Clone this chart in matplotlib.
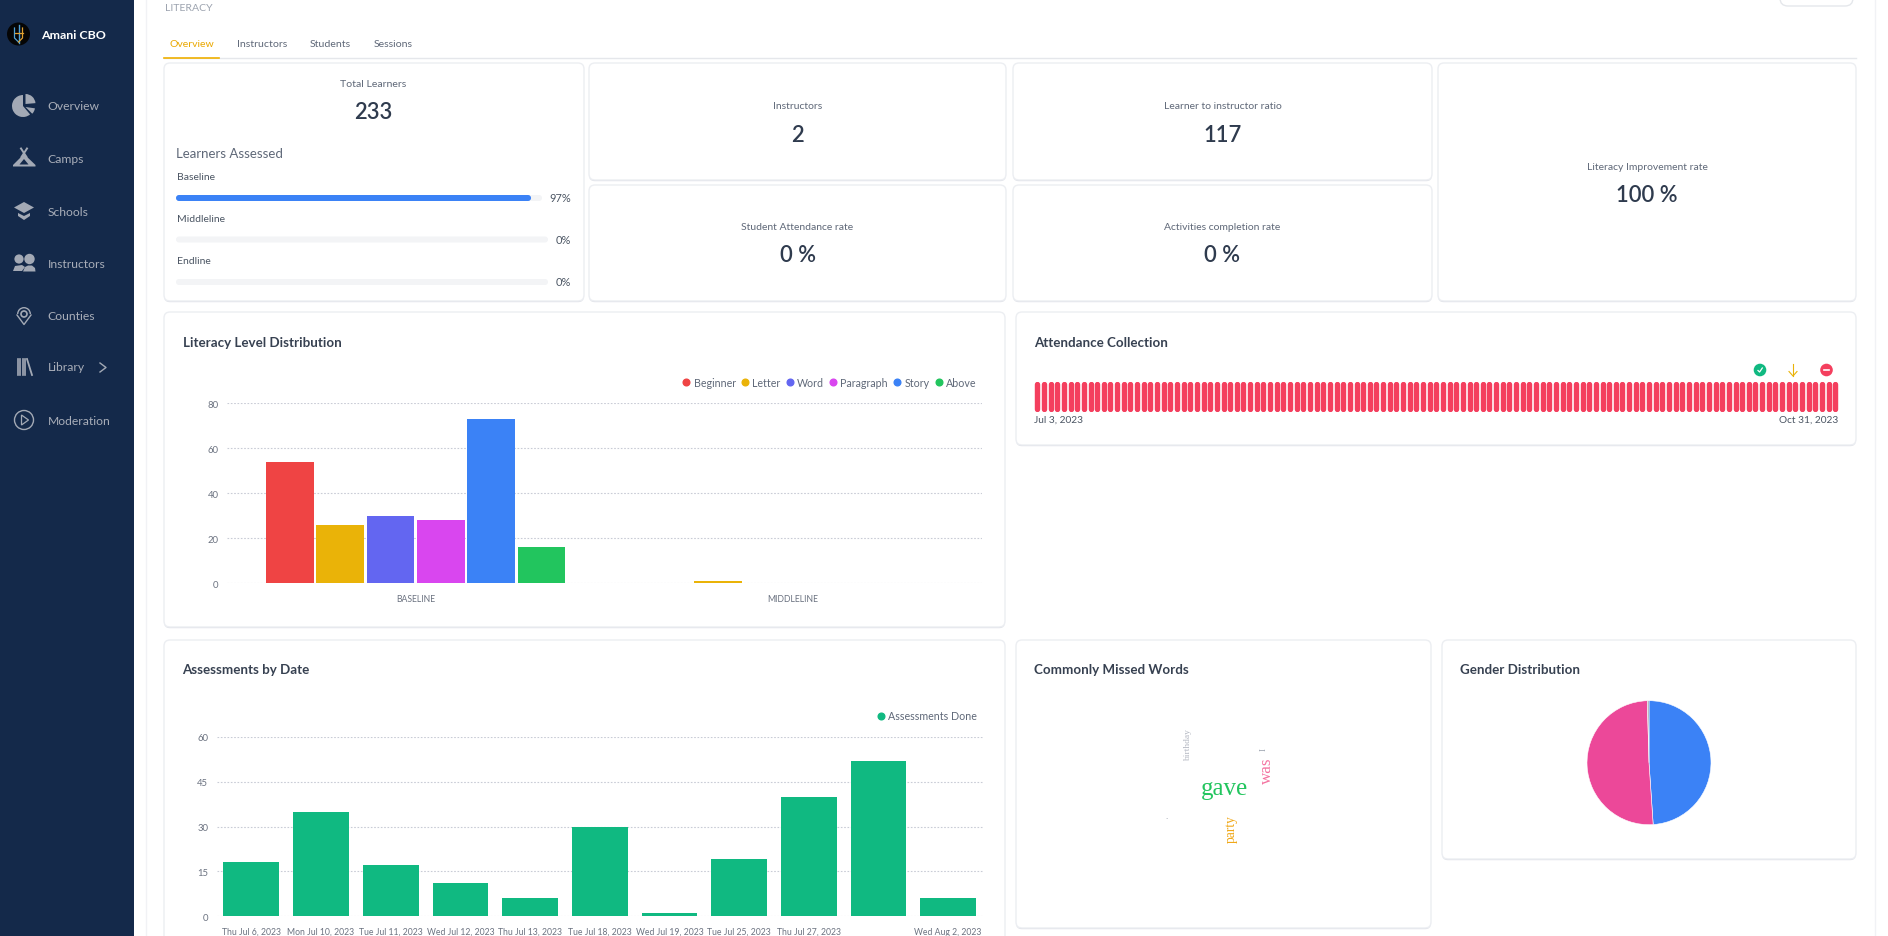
#!/usr/bin/env python3
"""Amani CBO literacy dashboard, rebuilt with matplotlib."""

import matplotlib
matplotlib.use('Agg')
import matplotlib.pyplot as plt
import numpy as np
from matplotlib.lines import Line2D
from matplotlib.patches import Circle, FancyBboxPatch, Polygon, Wedge

plt.rcParams['font.family'] = ['Lato', 'DejaVu Sans']

W, H = 1888, 937

# ---- data ----
nav_items = ['Overview', 'Camps', 'Schools', 'Instructors', 'Counties', 'Library', 'Moderation']
tabs = ['Overview', 'Instructors', 'Students', 'Sessions']

total_learners = 233
assessed_stages = ['Baseline', 'Middleline', 'Endline']
assessed_pct = [97, 0, 0]

kpi_labels = ['Instructors', 'Learner to instructor ratio', 'Student Attendance rate',
              'Activities completion rate', 'Literacy Improvement rate']
kpi_values = ['2', '117', '0 %', '0 %', '100 %']

level_stages = ['BASELINE', 'MIDDLELINE']
level_names = ['Beginner', 'Letter', 'Word', 'Paragraph', 'Story', 'Above']
level_baseline = [54, 26, 30, 28, 73, 16]
level_middleline = [0, 1, 0, 0, 0, 0]
level_colors = ['#EF4444', '#EAB308', '#6366F1', '#D946EF', '#3B82F6', '#22C55E']
level_ticks = [0, 20, 40, 60, 80]

assess_dates = ['Thu Jul 6, 2023', 'Mon Jul 10, 2023', 'Tue Jul 11, 2023', 'Wed Jul 12, 2023',
                'Thu Jul 13, 2023', 'Tue Jul 18, 2023', 'Wed Jul 19, 2023', 'Tue Jul 25, 2023',
                'Thu Jul 27, 2023', '', 'Wed Aug 2, 2023']
assess_counts = [18, 35, 17, 11, 6, 30, 1, 19, 40, 52, 6]
assess_ticks = [0, 15, 30, 45, 60]

# one entry per day, Jul 3 to Oct 31 2023: nothing collected
attendance_days = [1] * 121

gender_names = ['Male', 'Female', 'Other']
gender_counts = [114, 118, 1]
gender_colors = ['#3B82F6', '#EC4899', '#9CA3AF']

words = ['gave', 'was', 'party', 'birthday', 'I', '.']
word_colors = ['#22C55E', '#F472A0', '#F0A818', '#B4B8C2', '#9CA3AF', '#9CA3AF']

NAVY = '#14294A'
ICON = '#A3A9B5'
DARK = '#2F3B4E'
MID = '#5F6878'
TICK = '#6B7280'
GRID = '#C9CCD6'


def px(size):
    # css pixels to points at dpi 100
    return size * 0.72


fig = plt.figure(figsize=(W / 100, H / 100), dpi=100, facecolor='white')
bg = fig.add_axes([0, 0, 1, 1], zorder=0)
bg.set_xlim(0, W)
bg.set_ylim(H, 0)
bg.axis('off')


def px_axes(x0, y0, x1, y1):
    ax = fig.add_axes([x0 / W, 1 - y1 / H, (x1 - x0) / W, (y1 - y0) / H], zorder=2)
    ax.patch.set_alpha(0)
    return ax


def label(x, y, s, size, color=MID, ha='left', weight='normal', **kw):
    # +1 because va=center sits a little high for this font
    return bg.text(x, y + 1, s, fontsize=px(size), color=color, ha=ha, va='center',
                   fontweight=weight, **kw)


def card(x0, y0, x1, y1, r=6):
    bg.add_patch(FancyBboxPatch((x0, y0 + 1.2), x1 - x0, y1 - y0, boxstyle=f'round,pad=0,rounding_size={r}',
                                fc='#DDDFE6', ec='none', zorder=1))
    bg.add_patch(FancyBboxPatch((x0, y0), x1 - x0, y1 - y0, boxstyle=f'round,pad=0,rounding_size={r}',
                                fc='white', ec='#ECEEF2', lw=1, zorder=1.1))


def rail(x0, x1, y, h, color, z=2):
    bg.add_patch(FancyBboxPatch((x0, y - h / 2), x1 - x0, h, boxstyle=f'round,pad=0,rounding_size={h / 2}',
                                fc=color, ec='none', zorder=z))


# ---- sidebar ----
bg.fill_between([0, 134], 0, H, color=NAVY, lw=0, zorder=1)
bg.plot([145.5, 145.5], [0, H], color='#F1F2F5', lw=1, zorder=1)
bg.plot([1874.5, 1874.5], [0, H], color='#F1F2F5', lw=1, zorder=1)

# logo
bg.add_patch(Circle((18.5, 35), 11.5, fc='#050505', ec='none', zorder=2))
bg.plot([18.5, 18.5], [26, 44], color='#4FA3D8', lw=1, zorder=3)
bg.plot([14.5, 14.5, 18.5], [29, 39, 43], color='#4FA3D8', lw=0.9, zorder=3)
bg.plot([22.5, 22.5, 18.5], [29, 39, 43], color='#E0A030', lw=0.9, zorder=3)
bg.plot([14.5, 22.5], [34, 34], color='#E0A030', lw=0.9, zorder=3)
label(41, 34.5, 'Amani CBO', 12.4, color='white', weight='bold', zorder=3)

nav_y = [106, 158.5, 211.5, 263.5, 316, 366.5, 421]
for name, y in zip(nav_items, nav_y):
    label(47.5, y, name, 12.1, color='#A9AEB9', zorder=3)

# overview icon
bg.add_patch(Wedge((23, 107), 11, 50, 270, fc=ICON, ec='none', zorder=3))
bg.add_patch(Wedge((25.5, 105), 10, 270, 355, fc=ICON, ec='none', zorder=3))
bg.add_patch(Wedge((25.5, 108), 9.5, 8, 45, fc=ICON, ec='none', zorder=3))
# camps icon
bg.add_patch(Polygon([(24, 155), (35.5, 166), (35.5, 167.5), (13, 167.5), (13, 166)], fc=ICON, ec='none', zorder=3))
bg.plot([21, 26.5], [149.5, 158], color=ICON, lw=1.4, zorder=3)
bg.plot([27, 21.5], [149.5, 158], color=ICON, lw=1.4, zorder=3)
bg.add_patch(Polygon([(24, 160), (28.5, 165.5), (19.5, 165.5)], fc=NAVY, ec='none', zorder=4))
# schools icon
bg.add_patch(Polygon([(24, 203), (34, 208.5), (24, 214), (14, 208.5)], fc=ICON, ec='none', zorder=3))
bg.add_patch(Polygon([(18, 214), (24, 217), (30, 214), (30, 217), (24, 221), (18, 217)], fc=ICON, ec='none', zorder=3))
# instructors icon
for cx, r in [(19, 4.6), (29.5, 5.2)]:
    bg.add_patch(Circle((cx, 260), r, fc=ICON, ec='none', zorder=3))
bg.add_patch(Polygon([(13, 272), (15, 267), (22, 266), (25, 268), (22, 272)], fc=ICON, ec='none', zorder=3))
bg.add_patch(Polygon([(23, 272.5), (25, 268), (28, 266.5), (32, 266.5), (35, 269), (35.5, 272.5)], fc=ICON, ec='none', zorder=3))
# counties icon
bg.add_patch(Wedge((24, 315), 7, 180, 360, width=1.4, fc=ICON, ec='none', zorder=3))
bg.plot([17, 24, 31], [316, 325.5, 316], color=ICON, lw=1, zorder=3)
bg.add_patch(Circle((24, 315), 3, fc='none', ec=ICON, lw=1.2, zorder=3))
# library icon
for x in [17.5, 20, 22.5, 25]:
    bg.plot([x, x], [360, 376], color=ICON, lw=1.2, zorder=3)
bg.plot([27, 32], [360, 376], color=ICON, lw=1.3, zorder=3)
bg.plot([100, 106, 100], [364, 368.5, 373], color=ICON, lw=1, zorder=3)
# moderation icon
bg.add_patch(Circle((24, 421), 9.5, fc='none', ec=ICON, lw=1, zorder=3))
bg.add_patch(Polygon([(21.5, 416), (28.5, 421), (21.5, 426)], fc='none', ec=ICON, lw=0.9, zorder=3))

# ---- header ----
label(164.5, 7.5, 'LITERACY', 10.5, color='#9CA3AF')
bg.add_patch(FancyBboxPatch((1780, -10), 73, 17, boxstyle='round,pad=0,rounding_size=8', fc='white',
                            ec='#E5E7EB', lw=1, zorder=1))
bg.plot([164, 1856], [58.5, 58.5], color='#E5E7EB', lw=1, zorder=1)
for name, x in zip(tabs, [170, 237, 310, 374]):
    label(x, 43.5, name, 10.5, color='#EAA800' if name == 'Overview' else MID)
bg.plot([164, 219], [58.5, 58.5], color='#F0B000', lw=1.2, zorder=2)

# ---- kpi cards ----
card(164, 64, 584, 302)
card(589, 64, 1006, 181)
card(589, 186, 1006, 302)
card(1013, 64, 1432, 181)
card(1013, 186, 1432, 302)
card(1438, 64, 1856, 302)

label(373.5, 83.5, 'Total Learners', 10.5, ha='center')
label(373.5, 111.5, str(total_learners), 22, color=DARK, ha='center', weight='semibold')
label(176.5, 153.5, 'Learners Assessed', 13.2, color=MID)

for stage, pct, y_lab, y_bar, rail_end in zip(assessed_stages, assessed_pct, [176.5, 218.5, 260.5],
                                              [199, 240.5, 283], [542, 548, 548]):
    label(176.5, y_lab, stage, 10.4, color='#4B5563')
    rail(176, rail_end, y_bar, 6, '#F3F4F6')
    if pct > 0:
        rail(176, 176 + (rail_end - 176) * pct / 100, y_bar, 6, '#3B82F6', z=3)
    label(571, y_bar - 1, f'{pct}%', 11, color='#4B5563', ha='right')

kpi_pos = [(797.5, 105.5, 134), (1222.5, 105.5, 134), (797.5, 226.5, 255), (1222.5, 226.5, 255), (1647, 166.5, 194.5)]
for name, value, (cx, y_lab, y_val) in zip(kpi_labels, kpi_values, kpi_pos):
    label(cx, y_lab, name, 10.4, ha='center')
    label(cx, y_val, value, 22, color=DARK, ha='center', weight='semibold')

# ---- chart cards ----
card(164, 313, 1005, 628)
card(1016, 313, 1856, 446)
card(164, 641, 1005, 960)
card(1016, 641, 1431, 929)
card(1442, 641, 1856, 860)

for x, y, title in [(183, 342.5, 'Literacy Level Distribution'), (1034.5, 342.5, 'Attendance Collection'),
                    (182.5, 669.5, 'Assessments by Date'), (1034.5, 669.5, 'Commonly Missed Words'),
                    (1460, 669.5, 'Gender Distribution')]:
    label(x, y, title, 13.4, color='#374151', weight='bold')


def style_axis(ax, ticks):
    for s in ax.spines.values():
        s.set_visible(False)
    ax.set_yticks(ticks)
    ax.tick_params(length=0, labelsize=px(9.5), labelcolor=TICK)
    ax.grid(axis='y', color=GRID, lw=0.8, ls=(0, (1.5, 1.5)), zorder=0)
    ax.set_axisbelow(True)


def dot_legend(ax, handles, names, ncol):
    ax.legend(handles, names, loc='lower right', bbox_to_anchor=(0.9925, 1.085), ncol=ncol, frameon=False,
              fontsize=px(10.6), labelcolor=MID, handlelength=0.6, handletextpad=0.38, columnspacing=0.57,
              borderpad=0, borderaxespad=0)


# literacy levels
ax1 = px_axes(227, 404.3, 982, 584.3)
x_pos = np.arange(len(level_stages))
step = 0.8 / len(level_names)
for i, (name, color) in enumerate(zip(level_names, level_colors)):
    vals = [level_baseline[i], level_middleline[i]]
    ax1.bar(x_pos + (i - 2.5) * step, vals, width=step * 0.95, color=color, lw=0, label=name, zorder=3)
ax1.set_xlim(-0.5, 1.5)
ax1.set_ylim(0, 80)
style_axis(ax1, level_ticks)
ax1.set_xticks(x_pos)
ax1.set_xticklabels(level_stages)
ax1.tick_params(axis='x', pad=7.5, labelsize=px(8.6))
ax1.tick_params(axis='y', pad=6)
dot_legend(ax1, [Line2D([], [], marker='o', ls='', ms=4.8, color=c) for c in level_colors], level_names, 6)

# assessments by date
ax2 = px_axes(216.5, 737.7, 983, 917.3)
x_dates = np.arange(len(assess_counts))
ax2.bar(x_dates, assess_counts, width=0.8, color='#10B981', lw=0, label='Assessments Done', zorder=3)
ax2.set_xlim(-0.5, len(assess_counts) - 0.5)
ax2.set_ylim(0, 60)
style_axis(ax2, assess_ticks)
ax2.set_xticks(x_dates)
ax2.set_xticklabels(assess_dates)
ax2.tick_params(axis='x', pad=7.5, labelsize=px(8.7))
ax2.tick_params(axis='y', pad=6)
dot_legend(ax2, [Line2D([], [], marker='o', ls='', ms=4.8, color='#10B981')], ['Assessments Done'], 1)

# attendance strip
ax3 = px_axes(1034, 382.7, 1838.6, 412.7)
ax3.vlines(np.arange(len(attendance_days)), 0.09, 0.91, color='#F43F5E', lw=px(5.4), capstyle='round')
ax3.set_xlim(-0.5, len(attendance_days) - 0.5)
ax3.set_ylim(0, 1)
ax3.axis('off')
label(1034, 419.5, 'Jul 3, 2023', 10.1, color='#4B5563')
label(1838.5, 419.5, 'Oct 31, 2023', 10.1, color='#4B5563', ha='right')
bg.add_patch(Circle((1760, 371), 6.3, fc='#10B981', ec='none', zorder=3))
bg.plot([1758, 1759.6, 1762.3], [371.5, 373, 369], color='white', lw=0.9, zorder=4)
bg.plot([1793, 1793], [365, 377], color='#EAB308', lw=0.8, zorder=3)
bg.plot([1789, 1793, 1797], [372.5, 377, 372.5], color='#EAB308', lw=0.8, zorder=3)
bg.add_patch(Circle((1826.5, 371), 6.3, fc='#F43F5E', ec='none', zorder=3))
bg.plot([1824, 1829], [371, 371], color='white', lw=1.2, zorder=4)

# word cloud
word_pos = [(1224.5, 789, 0, 25), (1267, 771, 90, 17), (1231, 829.5, 90, 13.5), (1188.5, 745, 90, 9.5),
            (1264, 750, 90, 9), (1167, 817, 0, 9)]
for word, color, (x, y, rot, size) in zip(words, word_colors, word_pos):
    bg.text(x, y, word, color=color, fontsize=px(size), family='Liberation Serif', rotation=rot,
            ha='center', va='center', zorder=3)

# gender pie
ax4 = px_axes(1587, 701.7, 1711, 825.7)
ax4.pie(gender_counts, colors=gender_colors, startangle=90, counterclock=False, radius=1,
        wedgeprops={'edgecolor': 'white', 'linewidth': 0.4})
ax4.set_xlim(-1, 1)
ax4.set_ylim(-1, 1)

fig.savefig('out.png', dpi=100)
